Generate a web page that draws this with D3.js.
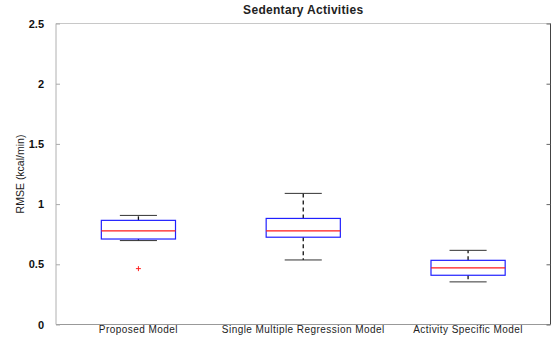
<!DOCTYPE html>
<html>
<head>
<meta charset="utf-8">
<script src="https://cdn.jsdelivr.net/npm/d3@7"></script>
<style>
  html, body { margin: 0; padding: 0; background: #fff; }
  svg { display: block; font-family: "Liberation Sans", Arial, Helvetica, sans-serif; }
</style>
</head>
<body>
<svg id="chart" width="555" height="339"></svg>
<script>
// Box plot summary per model (RMSE, kcal/min)
const categories = ["Proposed Model", "Single Multiple Regression Model", "Activity Specific Model"];
const lowerWhisker = [0.697, 0.536, 0.354];
const q1 = [0.710, 0.725, 0.409];
const median = [0.777, 0.777, 0.470];
const q3 = [0.865, 0.881, 0.533];
const upperWhisker = [0.906, 1.089, 0.616];
const outliers = [[0.464], [], []];
const yTicks = [0, 0.5, 1, 1.5, 2, 2.5];

const svg = d3.select("#chart");
const plotLeft = 56, plotRight = 550.5, plotTop = 23.5, plotBottom = 324.5;

const x = d3.scaleLinear().domain([0.5, 3.5]).range([plotLeft, plotRight]);
const y = d3.scaleLinear().domain([0, 2.5]).range([plotBottom, plotTop]);

const boxW = 0.45;       // box width in category units
const capW = boxW / 2;   // whisker cap width

// frame
svg.append("line").attr("x1", plotLeft).attr("x2", plotRight).attr("y1", plotTop).attr("y2", plotTop).attr("stroke", "#c8c8c8");
svg.append("line").attr("x1", plotLeft).attr("x2", plotRight).attr("y1", plotBottom).attr("y2", plotBottom).attr("stroke", "#999");
svg.append("line").attr("x1", plotLeft).attr("x2", plotLeft).attr("y1", plotTop).attr("y2", plotBottom).attr("stroke", "#b0b0b0");
svg.append("line").attr("x1", plotRight).attr("x2", plotRight).attr("y1", plotTop).attr("y2", plotBottom).attr("stroke", "#444");

// y axis, ticks pointing into the plot
const yAxis = svg.append("g")
  .attr("transform", `translate(${plotLeft},0)`)
  .call(d3.axisLeft(y).tickValues(yTicks).tickFormat(d3.format("")).tickSizeInner(-4).tickSizeOuter(0).tickPadding(12));
yAxis.select(".domain").remove();
yAxis.selectAll(".tick line").attr("stroke", "#aaa");
yAxis.selectAll(".tick text")
  .attr("font-size", 11).attr("font-weight", "bold").attr("fill", "#111")
  .attr("font-family", "Liberation Sans, Arial, sans-serif");

// mirrored ticks on the right edge
const yAxisR = svg.append("g")
  .attr("transform", `translate(${plotRight},0)`)
  .call(d3.axisRight(y).tickValues(yTicks).tickFormat("").tickSizeInner(-4).tickSizeOuter(0));
yAxisR.select(".domain").remove();
yAxisR.selectAll(".tick line").attr("stroke", "#666");

// x category labels
svg.selectAll("text.xlab")
  .data(categories)
  .join("text")
  .attr("class", "xlab")
  .attr("x", (d, i) => x(i + 1))
  .attr("y", plotBottom + 8.5)
  .attr("text-anchor", "middle")
  .attr("font-size", 10)
  .attr("letter-spacing", 0.45)
  .attr("fill", "#222")
  .text(d => d);

// title and y label
svg.append("text")
  .attr("x", (plotLeft + plotRight) / 2).attr("y", 14)
  .attr("text-anchor", "middle").attr("font-size", 12).attr("font-weight", "bold")
  .attr("letter-spacing", 0.3).attr("fill", "#222")
  .text("Sedentary Activities");

svg.append("text")
  .attr("transform", `translate(24,${(plotTop + plotBottom) / 2}) rotate(-90)`)
  .attr("text-anchor", "middle").attr("font-size", 10.5).attr("fill", "#222")
  .text("RMSE (kcal/min)");

// boxes
const g = svg.append("g");
categories.forEach((c, i) => {
  const cx = x(i + 1);
  const x0 = x(i + 1 - boxW / 2), x1 = x(i + 1 + boxW / 2);
  const c0 = x(i + 1 - capW / 2), c1 = x(i + 1 + capW / 2);

  // whiskers (dashed)
  g.append("line").attr("x1", cx).attr("x2", cx).attr("y1", y(q3[i])).attr("y2", y(upperWhisker[i]))
    .attr("stroke", "#111").attr("stroke-width", 1.3).attr("stroke-dasharray", "4,3");
  g.append("line").attr("x1", cx).attr("x2", cx).attr("y1", y(q1[i])).attr("y2", y(lowerWhisker[i]))
    .attr("stroke", "#111").attr("stroke-width", 1.3).attr("stroke-dasharray", "4,3");

  // caps
  g.append("line").attr("x1", c0).attr("x2", c1).attr("y1", y(upperWhisker[i])).attr("y2", y(upperWhisker[i]))
    .attr("stroke", "#333").attr("stroke-width", 1);
  g.append("line").attr("x1", c0).attr("x2", c1).attr("y1", y(lowerWhisker[i])).attr("y2", y(lowerWhisker[i]))
    .attr("stroke", "#333").attr("stroke-width", 1);

  // box
  g.append("rect")
    .attr("x", x0).attr("y", y(q3[i]))
    .attr("width", x1 - x0).attr("height", y(q1[i]) - y(q3[i]))
    .attr("fill", "none").attr("stroke", "#2020ff").attr("stroke-width", 1.2);

  // median
  g.append("line").attr("x1", x0).attr("x2", x1).attr("y1", y(median[i])).attr("y2", y(median[i]))
    .attr("stroke", "#ff1a1a").attr("stroke-width", 1.2);

  // outliers
  outliers[i].forEach(v => {
    g.append("path")
      .attr("d", `M${cx - 2.5},${y(v)}H${cx + 2.5}M${cx},${y(v) - 2.5}V${y(v) + 2.5}`)
      .attr("stroke", "#ff2020").attr("stroke-width", 1);
  });
});
</script>
</body>
</html>
